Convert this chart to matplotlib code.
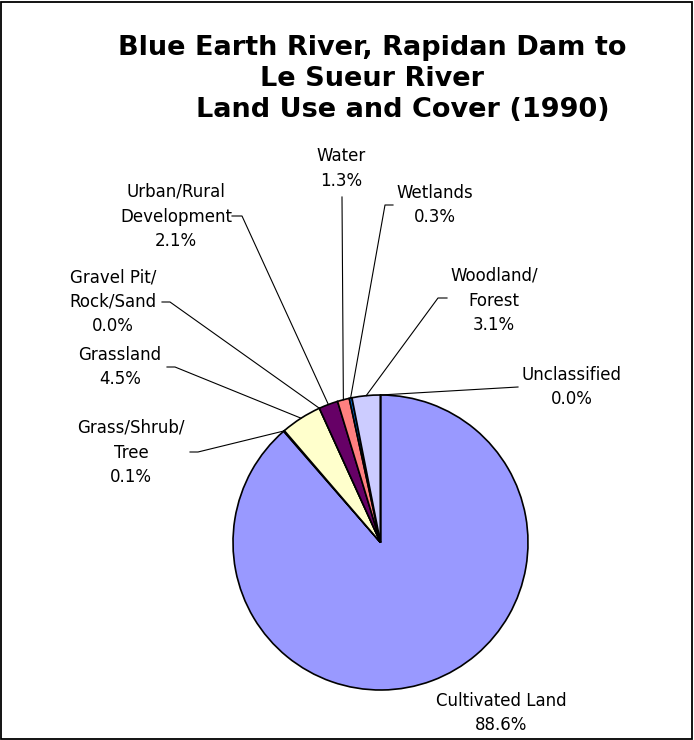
import matplotlib
matplotlib.use("Agg")
import matplotlib.pyplot as plt
import matplotlib.patches as mpatches
import numpy as np

# data, clockwise from 12 o'clock
categories = ["Cultivated Land", "Grass/Shrub/\nTree", "Grassland",
              "Gravel Pit/\nRock/Sand", "Urban/Rural\nDevelopment", "Water",
              "Wetlands", "Woodland/\nForest", "Unclassified"]
percent = [88.6, 0.1, 4.5, 0.0, 2.1, 1.3, 0.3, 3.1, 0.0]
colors = ["#9999FF", "#993366", "#FFFFCC", "#CCFFFF", "#660066",
          "#FF8080", "#0066CC", "#CCCCFF", "#000080"]

title_lines = ["Blue Earth River, Rapidan Dam to", "Le Sueur River",
               "Land Use and Cover (1990)"]

W, H = 694, 740
def fy(y):
    return H - y

# label layout in pixels from top-left: text centre x, first baseline y,
# and the leader path start points (None = no leader)
label_pos = [(501, 706), (131, 433), (120, 360), (113, 282), (176, 197),
             (341, 161), (435, 198), (494, 281), (572, 380)]
leader_pts = [None,
              [(190, 452), (198, 452)],
              [(167, 367), (175, 367)],
              [(162, 302), (170, 302)],
              [(232, 216), (242, 216)],
              [(342, 197)],
              [(393, 205), (385, 205)],
              [(447, 298), (438, 298)],
              [(518, 387)]]
line_step = 24.5

fig = plt.figure(figsize=(W / 100, H / 100), dpi=100)
ax = fig.add_axes([0, 0, 1, 1])

cx, cy, r = 380.5, fy(542.5), 147.5
wedges, _ = ax.pie(percent, colors=colors, startangle=90, counterclock=False,
                   center=(cx, cy), radius=r,
                   wedgeprops=dict(edgecolor="black", linewidth=1.2))
ax.set_xlim(0, W)
ax.set_ylim(0, H)
ax.set_aspect("equal")
ax.axis("off")

for w, name, val, (tx, ty), pts in zip(wedges, categories, percent,
                                        label_pos, leader_pts):
    lines = name.split("\n") + [f"{val:.1f}%"]
    for i, s in enumerate(lines):
        ax.text(tx, fy(ty + i * line_step), s, ha="center", va="baseline",
                fontsize=12)
    if pts is None:
        continue
    mid = np.deg2rad((w.theta1 + w.theta2) / 2)
    xs = [p[0] for p in pts] + [cx + r * np.cos(mid)]
    ys = [fy(p[1]) for p in pts] + [cy + r * np.sin(mid)]
    ax.plot(xs, ys, color="black", linewidth=0.8)

for line, (tx, ty) in zip(title_lines, [(372, 55), (372.5, 86), (403, 117)]):
    ax.text(tx, fy(ty), line, ha="center", va="baseline",
            fontsize=19.5, fontweight="bold")

ax.add_patch(mpatches.Rectangle((1, 1), W - 2.5, H - 2.5, fill=False,
                                edgecolor="black", linewidth=1.3))

fig.savefig("out.png", dpi=100)
